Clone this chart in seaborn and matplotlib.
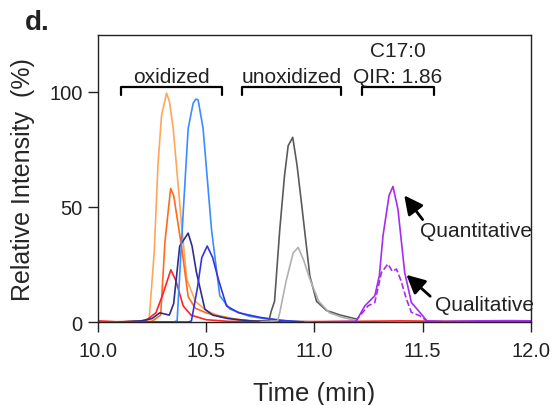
import numpy as np
import matplotlib.pyplot as plt
import pandas as pd
import seaborn as sns

# 色谱数据
t_orange_lt = [10.00, 10.20, 10.237, 10.26, 10.278, 10.294, 10.317, 10.33, 10.348, 10.379, 10.41, 10.45, 10.50, 10.55, 10.62, 10.70, 10.85]
i_orange_lt = [0.0, 0.3, 1.5, 30, 69, 89.6, 99.4, 96, 84, 50.5, 18.7, 9, 5, 3, 1.5, 0.5, 0.0]

t_orange = [10.00, 10.25, 10.29, 10.31, 10.336, 10.35, 10.386, 10.417, 10.45, 10.50, 10.56, 10.65, 10.75, 10.85]
i_orange = [0.0, 0.3, 3, 35, 58, 55, 33, 11, 6, 4, 2.5, 1, 0.3, 0.0]

t_red = [10.00, 10.05, 10.10, 10.22, 10.268, 10.30, 10.337, 10.36, 10.394, 10.43, 10.50, 10.60, 10.80, 11.00, 11.20, 11.40, 11.60, 12.00]
i_red = [0.5, 0.3, 0.0, 0.5, 4, 12, 22.7, 18, 7, 3, 1, 0.3, 0.2, 0.2, 0.3, 0.5, 0.3, 0.2]

t_navy = [10.10, 10.20, 10.25, 10.286, 10.33, 10.35, 10.378, 10.417, 10.435, 10.455, 10.494, 10.53, 10.60, 10.70, 10.85]
i_navy = [0.0, 0.5, 1.5, 4, 3, 8, 33, 38.6, 33, 21.7, 5.6, 3, 1.5, 0.5, 0.0]

t_blue_lt = [10.10, 10.35, 10.366, 10.394, 10.417, 10.44, 10.452, 10.463, 10.486, 10.525, 10.563, 10.61, 10.70, 10.80, 10.90, 11.00]
i_blue_lt = [0.0, 0.0, 0.5, 47.6, 84, 95, 96.8, 96.5, 84, 40, 11.4, 5.6, 2.5, 1, 0.3, 0.0]

t_blue = [10.10, 10.42, 10.432, 10.46, 10.48, 10.505, 10.53, 10.556, 10.594, 10.65, 10.75, 10.85, 10.95]
i_blue = [0.0, 0.0, 0.5, 15, 28, 33, 28, 18.7, 7, 4, 2, 0.7, 0.0]

t_gray = [10.70, 10.79, 10.80, 10.816, 10.84, 10.862, 10.879, 10.90, 10.92, 10.94, 10.979, 11.01, 11.056, 11.12, 11.194]
i_gray = [0.0, 0.5, 4.5, 9, 40, 63.5, 76.6, 80.2, 68, 52, 20, 9, 5, 3, 1.3]

t_gray_lt = [10.75, 10.83, 10.84, 10.87, 10.902, 10.925, 10.95, 10.979, 11.02, 11.07, 11.13, 11.19]
i_gray_lt = [0.0, 0.5, 4, 18, 30, 32.4, 27, 18.7, 9, 4, 2, 0.8]

t_purple = [11.00, 11.19, 11.194, 11.233, 11.279, 11.30, 11.317, 11.345, 11.363, 11.386, 11.417, 11.448, 11.487, 11.52, 11.60, 11.75, 11.90, 12.00]
i_purple = [0.0, 0.3, 0.5, 7, 11.4, 20, 37.5, 55, 58.9, 49, 21.6, 8.5, 4.2, 0.5, 0.3, 0.5, 0.6, 0.5]

t_purple_q = [11.19, 11.21, 11.248, 11.279, 11.31, 11.34, 11.36, 11.379, 11.40, 11.425, 11.448, 11.487, 11.52]
i_purple_q = [0.3, 2.7, 7, 8.5, 21.6, 25.2, 22, 23, 18, 10, 4.2, 2.7, 0.5]

series = [
    (t_orange_lt, i_orange_lt, '#ffa65a', '-'),
    (t_orange, i_orange, '#ff6a1f', '-'),
    (t_red, i_red, '#ff2424', '-'),
    (t_navy, i_navy, '#2e2e8a', '-'),
    (t_blue_lt, i_blue_lt, '#3a8cff', '-'),
    (t_blue, i_blue, '#3434e6', '-'),
    (t_gray, i_gray, '#5a5a5a', '-'),
    (t_gray_lt, i_gray_lt, '#b0b0b0', '-'),
    (t_purple, i_purple, '#a62cf0', '-'),
    (t_purple_q, i_purple_q, '#a62cf0', '--'),
]

x_ticks = [10.0, 10.5, 11.0, 11.5, 12.0]
y_ticks = [0, 50, 100]

sns.set_style('ticks')
plt.rcParams['font.family'] = ['Liberation Sans', 'DejaVu Sans']
plt.rcParams['text.color'] = '#222222'

fig = plt.figure(figsize=(5.53, 4.06), dpi=100)
ax = fig.add_axes([0.177, 0.2044, 0.783, 0.7066])

for t, y, c, ls in series:
    df = pd.DataFrame({'t': t, 'y': y})
    sns.lineplot(data=df, x='t', y='y', ax=ax, color=c, linestyle=ls,
                 linewidth=1.2, estimator=None, sort=False)

ax.set_xlim(10.0, 12.0)
ax.set_ylim(0, 124.6)
ax.set_xticks(x_ticks)
ax.set_xticklabels([f'{v:.1f}' for v in x_ticks])
ax.set_yticks(y_ticks)
ax.tick_params(axis='both', labelsize=14.5, colors='#222222', length=7, width=1)
ax.tick_params(axis='x', pad=7)
ax.tick_params(axis='y', pad=4)
for s in ax.spines.values():
    s.set_linewidth(1)
    s.set_color('#222222')

ax.set_xlabel('Time (min)', fontsize=18.5, labelpad=15)
ax.set_ylabel('Relative Intensity  (%)', fontsize=18, labelpad=10)

# 括号标注
def bracket(x0, x1, label):
    ax.plot([x0, x0, x1, x1], [98.7, 101.9, 101.9, 98.7], color='black', lw=1.6,
            clip_on=False)
    ax.text((x0 + x1) / 2, 104.3, label, ha='center', va='baseline', fontsize=15)

bracket(10.109, 10.571, 'oxidized')
bracket(10.666, 11.125, 'unoxidized')
bracket(11.22, 11.551, 'QIR: 1.86')
ax.text(11.385, 115.4, 'C17:0', ha='center', va='baseline', fontsize=15)

arrow = dict(arrowstyle='-|>,head_length=0.8,head_width=0.4', color='black',
             lw=2, mutation_scale=14, shrinkA=0, shrinkB=0)
ax.annotate('', xy=(11.415, 55), xytext=(11.5, 44.5), arrowprops=arrow)
ax.text(11.49, 39.6, 'Quantitative', ha='left', va='center', fontsize=15)
ax.annotate('', xy=(11.425, 20.5), xytext=(11.535, 11.2), arrowprops=arrow)
ax.text(11.556, 7.8, 'Qualitative', ha='left', va='center', fontsize=15)

fig.text(0.045, 0.975, 'd.', fontsize=20, fontweight='bold', va='top')

fig.savefig('out.png', dpi=100)
